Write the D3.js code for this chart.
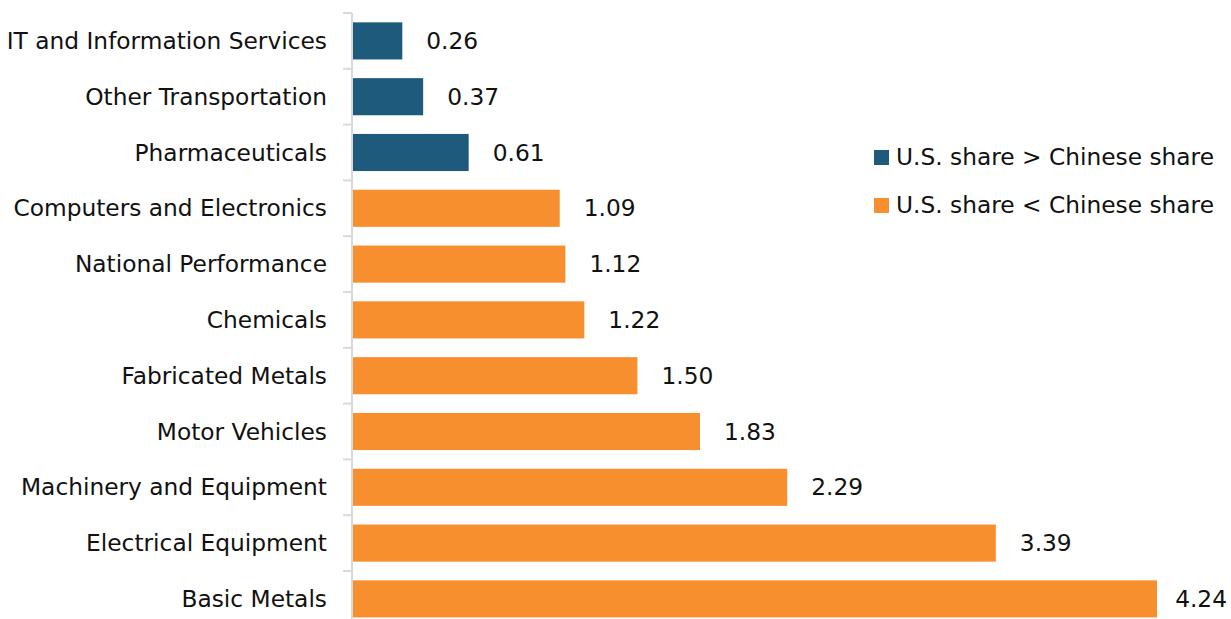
<!DOCTYPE html>
<html>
<head>
<meta charset="utf-8">
<script src="https://cdn.jsdelivr.net/npm/d3@7"></script>
<style>
  html, body { margin: 0; padding: 0; background: #fff; }
  svg text { font-family: "DejaVu Sans", "Liberation Sans", sans-serif; fill: #111; }
</style>
</head>
<body>
<svg id="chart" width="1231" height="619"></svg>
<script>
// Sector ratios, top to bottom
const categories = [
  "IT and Information Services",
  "Other Transportation",
  "Pharmaceuticals",
  "Computers and Electronics",
  "National Performance",
  "Chemicals",
  "Fabricated Metals",
  "Motor Vehicles",
  "Machinery and Equipment",
  "Electrical Equipment",
  "Basic Metals"
];
const values = [0.26, 0.37, 0.61, 1.09, 1.12, 1.22, 1.50, 1.83, 2.29, 3.39, 4.24];
const groups = ["above", "above", "above", "below", "below", "below", "below", "below", "below", "below", "below"];
const legendLabels = ["U.S. share > Chinese share", "U.S. share < Chinese share"];
const legendKeys = ["above", "below"];

const W = 1231, H = 619;
const fontSize = 23.3;
const svg = d3.select("#chart");

const color = d3.scaleOrdinal()
  .domain(legendKeys)
  .range(["#1d5a7b", "#f78f2f"]);

const x = d3.scaleLinear().domain([0, 4.24]).range([353, 1157]);
const y = d3.scaleBand()
  .domain(categories)
  .range([13, 13 + 55.8 * categories.length])
  .paddingInner(0.335)
  .paddingOuter(0.1675);

// Bars
svg.append("g").selectAll("rect")
  .data(categories)
  .join("rect")
  .attr("x", x(0))
  .attr("y", d => y(d))
  .attr("width", (d, i) => x(values[i]) - x(0))
  .attr("height", y.bandwidth())
  .attr("fill", (d, i) => color(groups[i]));

// Category axis: light line with ticks at band boundaries
const axisG = svg.append("g");
axisG.append("line")
  .attr("x1", 352).attr("x2", 352)
  .attr("y1", y.range()[0]).attr("y2", y.range()[1])
  .attr("stroke", "#d9d9d9").attr("stroke-width", 2);
const boundaries = d3.range(categories.length + 1).map(i => y.range()[0] + i * y.step());
axisG.selectAll("line.tick")
  .data(boundaries)
  .join("line")
  .attr("class", "tick")
  .attr("x1", 343).attr("x2", 352)
  .attr("y1", d => d).attr("y2", d => d)
  .attr("stroke", "#d9d9d9").attr("stroke-width", 2);

axisG.selectAll("text")
  .data(categories)
  .join("text")
  .attr("x", 327)
  .attr("y", d => y(d) + y.bandwidth() / 2)
  .attr("dy", "0.35em")
  .attr("text-anchor", "end")
  .style("font-size", fontSize + "px")
  .text(d => d);

// Value labels right of each bar, kept inside the canvas
const labels = svg.append("g").selectAll("text")
  .data(categories)
  .join("text")
  .attr("y", d => y(d) + y.bandwidth() / 2)
  .attr("dy", "0.35em")
  .style("font-size", fontSize + "px")
  .text((d, i) => values[i].toFixed(2));
labels.attr("x", function(d, i) {
  const w = this.getComputedTextLength();
  return Math.min(x(values[i]) + 24, W - 4 - w);
});

// Legend
const legend = svg.append("g");
legendKeys.forEach((k, i) => {
  const cy = 157 + i * 48;
  legend.append("rect")
    .attr("x", 874).attr("y", cy - 7)
    .attr("width", 15).attr("height", 15)
    .attr("fill", color(k));
  legend.append("text")
    .attr("x", 896).attr("y", cy)
    .attr("dy", "0.35em")
    .style("font-size", fontSize + "px")
    .text(legendLabels[i]);
});
</script>
</body>
</html>
